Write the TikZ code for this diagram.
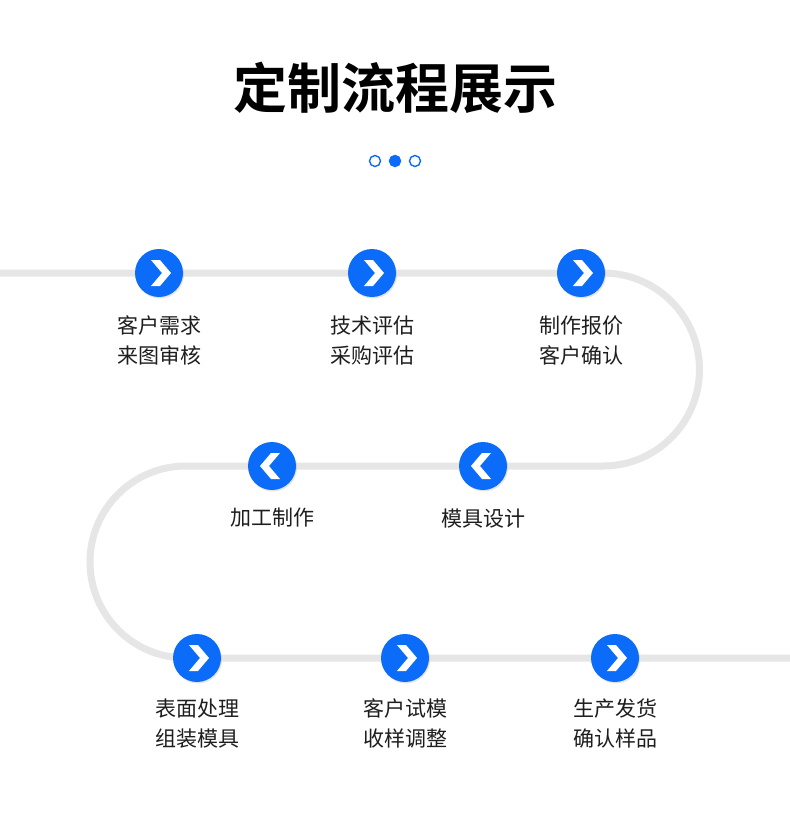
\documentclass[tikz,border=0pt]{standalone}
\usepackage{fontspec}
\setmainfont{Noto Sans CJK SC}[BoldFont={Noto Sans CJK SC Bold}]
\usepackage{tikz}
\usetikzlibrary{positioning}
\usetikzlibrary{backgrounds}
\usetikzlibrary{shadows}

\definecolor{stepblue}{HTML}{0B6CF9}
\definecolor{trackgray}{HTML}{E6E6E6}
\definecolor{textgray}{HTML}{1E1E1E}

\tikzset{
  track/.style={draw=trackgray, line width=7pt},
  stepdot/.style={circle, fill=stepblue, minimum size=48pt, inner sep=0pt,
    drop shadow={shadow xshift=1pt, shadow yshift=-1.5pt, opacity=0.2}},
  nextdot/.style={stepdot, path picture={
    \fill[white] ([shift={(-8pt,13pt)}]path picture bounding box.center) -- ++(9pt,0pt)
      -- ++(11pt,-13pt) -- ++(-11pt,-13pt) -- ++(-9pt,0pt) -- ++(11pt,13pt) -- cycle;}},
  backdot/.style={stepdot, path picture={
    \fill[white] ([shift={(8pt,13pt)}]path picture bounding box.center) -- ++(-9pt,0pt)
      -- ++(-11pt,-13pt) -- ++(11pt,-13pt) -- ++(9pt,0pt) -- ++(-11pt,13pt) -- cycle;}},
  steptext/.style={align=center, inner sep=0pt, text=textgray,
    font=\fontsize{21}{30}\selectfont},
  pagedot/.style={circle, draw=stepblue, line width=1.4pt, minimum size=11pt, inner sep=0pt}
}

\begin{document}
\begin{tikzpicture}[x=1pt,y=-1pt]
\useasboundingbox (0,0) rectangle (790,833);

% title
\node[font=\fontsize{54}{60}\selectfont\bfseries] (title) at (395,88) {定制流程展示};
\node[pagedot] (p1) at (375,161) {};
\node[pagedot, fill=stepblue] (p2) at (395,161) {};
\node[pagedot] (p3) at (415,161) {};

% steps
\node[nextdot] (s1) at (159,273) {};
\node[nextdot] (s2) at (372,273) {};
\node[nextdot] (s3) at (581,273) {};
\node[backdot] (s4) at (483,466) {};
\node[backdot] (s5) at (272,466) {};
\node[nextdot] (s6) at (197,658) {};
\node[nextdot] (s7) at (405,658) {};
\node[nextdot] (s8) at (615,658) {};

\node[steptext, below=18pt of s1] (t1) {客户需求\\来图审核};
\node[steptext, below=18pt of s2] (t2) {技术评估\\采购评估};
\node[steptext, below=18pt of s3] (t3) {制作报价\\客户确认};
\node[steptext, below=18pt of s4] (t4) {模具设计};
\node[steptext, below=18pt of s5] (t5) {加工制作};
\node[steptext, below=16pt of s6] (t6) {表面处理\\组装模具};
\node[steptext, below=16pt of s7] (t7) {客户试模\\收样调整};
\node[steptext, below=16pt of s8] (t8) {生产发货\\确认样品};

% track
\coordinate (in) at (0,273);
\coordinate (ra) at (603,273);
\coordinate (la) at (186,466);
\coordinate (out) at (790,658);
\begin{scope}[on background layer]
\fill[white] (0,0) rectangle (790,833);
\draw[track] (in) -- (s1.center) -- (s2.center) -- (s3.center) -- (ra)
  arc[start angle=-90, end angle=90, radius=96.5] -- (s4.center) -- (s5.center) -- (la)
  arc[start angle=270, end angle=90, radius=96] -- (s6.center) -- (s7.center) -- (s8.center) -- (out);
\end{scope}
\end{tikzpicture}
\end{document}
